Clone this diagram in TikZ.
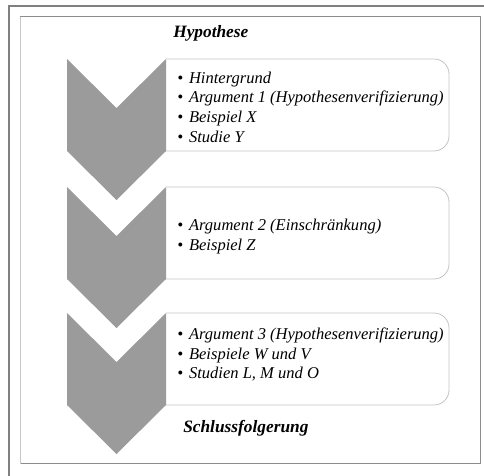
\documentclass[tikz,border=0pt]{standalone}
\usepackage{fontspec}
\setmainfont{Liberation Serif}
\definecolor{chevgrau}{HTML}{9B9B9B}
\definecolor{boxgrau}{HTML}{C4C4C4}
\definecolor{rahmen}{HTML}{808080}
\newcommand{\punkt}{\textbullet\hspace{4.5pt}}
\tikzset{
	chevron/.style = {fill = chevgrau, draw = none},
	listbox/.style = {draw = boxgrau, line width = .6pt, fill = white},
	listtext/.style = {inner sep = 0pt, anchor = west, align = left, font = \fontsize{12.4}{14.8}\selectfont\itshape},
	titel/.style = {inner sep = 0pt, anchor = west, font = \fontsize{13}{15}\selectfont\bfseries\itshape}
}
\begin{document}
\begin{tikzpicture}[x = .75pt, y = -.75pt]
		\useasboundingbox (0,0) rectangle (484,475);
		% outer and inner frame
		\draw [rahmen, line width = 1.5pt] (9,480) -- (9,5.5) -- (490,5.5);
		\draw [black!45, line width = .75pt] (20,16.5) -- (480.5,16.5) -- (480.5,463.5) -- (20,463.5);
		\draw [black!22, line width = .75pt] (20.5,16.5) -- (20.5,463.5);
		\foreach \t in {59,187,313}
		{
			% box with round corners on the right
			\draw [listbox] (166,\t) -- (434,\t) arc [start angle = 90, end angle = 0, radius = 11.25pt] -- (449,\t+77) arc [start angle = 0, end angle = -90, radius = 11.25pt] -- (166,\t+92);
			% chevron
			\fill [chevron] (67,\t) -- (116.5,\t+49) -- (166,\t) -- (166,\t+92) -- (116.5,\t+141) -- (67,\t+92) -- cycle;
		}
		\node [titel] (hypo) at (173,33) {Hypothese};
		\node [listtext] (liste1) at (177,107) {\punkt Hintergrund\\ \punkt Argument 1 (Hypothesenverifizierung)\\ \punkt Beispiel X\\ \punkt Studie Y};
		\node [listtext] (liste2) at (177,236.5) {\punkt Argument 2 (Einschränkung)\\ \punkt Beispiel Z};
		\node [listtext] (liste3) at (177,354.5) {\punkt Argument 3 (Hypothesenverifizierung)\\ \punkt Beispiele W und V\\ \punkt Studien L, M und O};
		\node [titel] (schluss) at (183,428) {Schlussfolgerung};
	\end{tikzpicture}
\end{document}
